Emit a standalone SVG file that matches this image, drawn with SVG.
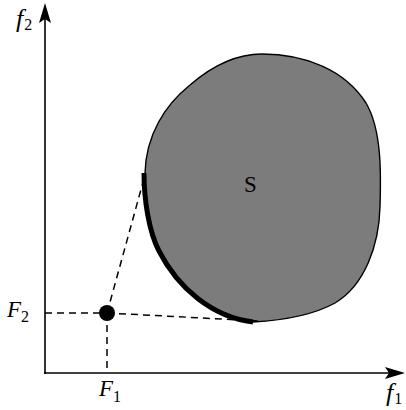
<svg xmlns="http://www.w3.org/2000/svg" width="406" height="410" viewBox="0 0 406 410">
<style>
.ax{stroke:#000;stroke-width:1.6;fill:none}
.ah{fill:#000;stroke:none}
.dash{stroke:#000;stroke-width:1.5;stroke-dasharray:7 5;fill:none}
.lbl{font-family:"Liberation Serif","DejaVu Serif",serif;font-size:23px;font-style:italic;fill:#000}
.big{font-size:26px}
.sub{font-style:normal;font-size:16px}
</style>
<rect width="406" height="410" fill="#fff"/>
<g id="region-S">
<path d="M262,54 C305,54 345,70 366,103 C382,130 381,175 380,207 C379,245 365,285 335,303 C315,314 290,320 253,322 C215,318 180,290 160,250 C150,232 145,200 145,173 C146,135 165,105 190,85 C212,66 235,54 262,54 Z" fill="#7c7c7c" stroke="#000" stroke-width="1.4"/>
<text x="244" y="192" font-family="Liberation Serif,serif" font-size="23" fill="#000">S</text>
</g>
<g id="pareto-front">
<path d="M144,173 C144,200 149,232 159,251 C178,288 212,317 253,322" fill="none" stroke="#000" stroke-width="5" stroke-linecap="butt"/>
</g>
<g id="connectors">
<line class="dash" x1="107" y1="313" x2="145" y2="175"/>
<line class="dash" x1="107" y1="313" x2="260" y2="321"/>
<line class="dash" x1="45" y1="313" x2="107" y2="313"/>
<line class="dash" x1="107" y1="313" x2="107" y2="373"/>
</g>
<g id="axes">
<line class="ax" x1="45" y1="374" x2="45" y2="12"/>
<path class="ah" d="M45,3 L51,23 L45,19 L39,23 Z"/>
<line class="ax" x1="44" y1="373" x2="396" y2="373"/>
<path class="ah" d="M405,373 L385,367 L389,373 L385,379 Z"/>
</g>
<g id="point">
<circle cx="107" cy="313" r="8" fill="#000"/>
</g>
<g id="labels">
<text class="lbl big" x="16" y="27">f<tspan class="sub" dx="1" dy="3">2</tspan></text>
<text class="lbl big" x="386" y="401">f<tspan class="sub" dx="1" dy="3">1</tspan></text>
<text class="lbl" x="7" y="317">F<tspan class="sub" dy="5">2</tspan></text>
<text class="lbl" x="99" y="396">F<tspan class="sub" dy="6">1</tspan></text>
</g>
</svg>
